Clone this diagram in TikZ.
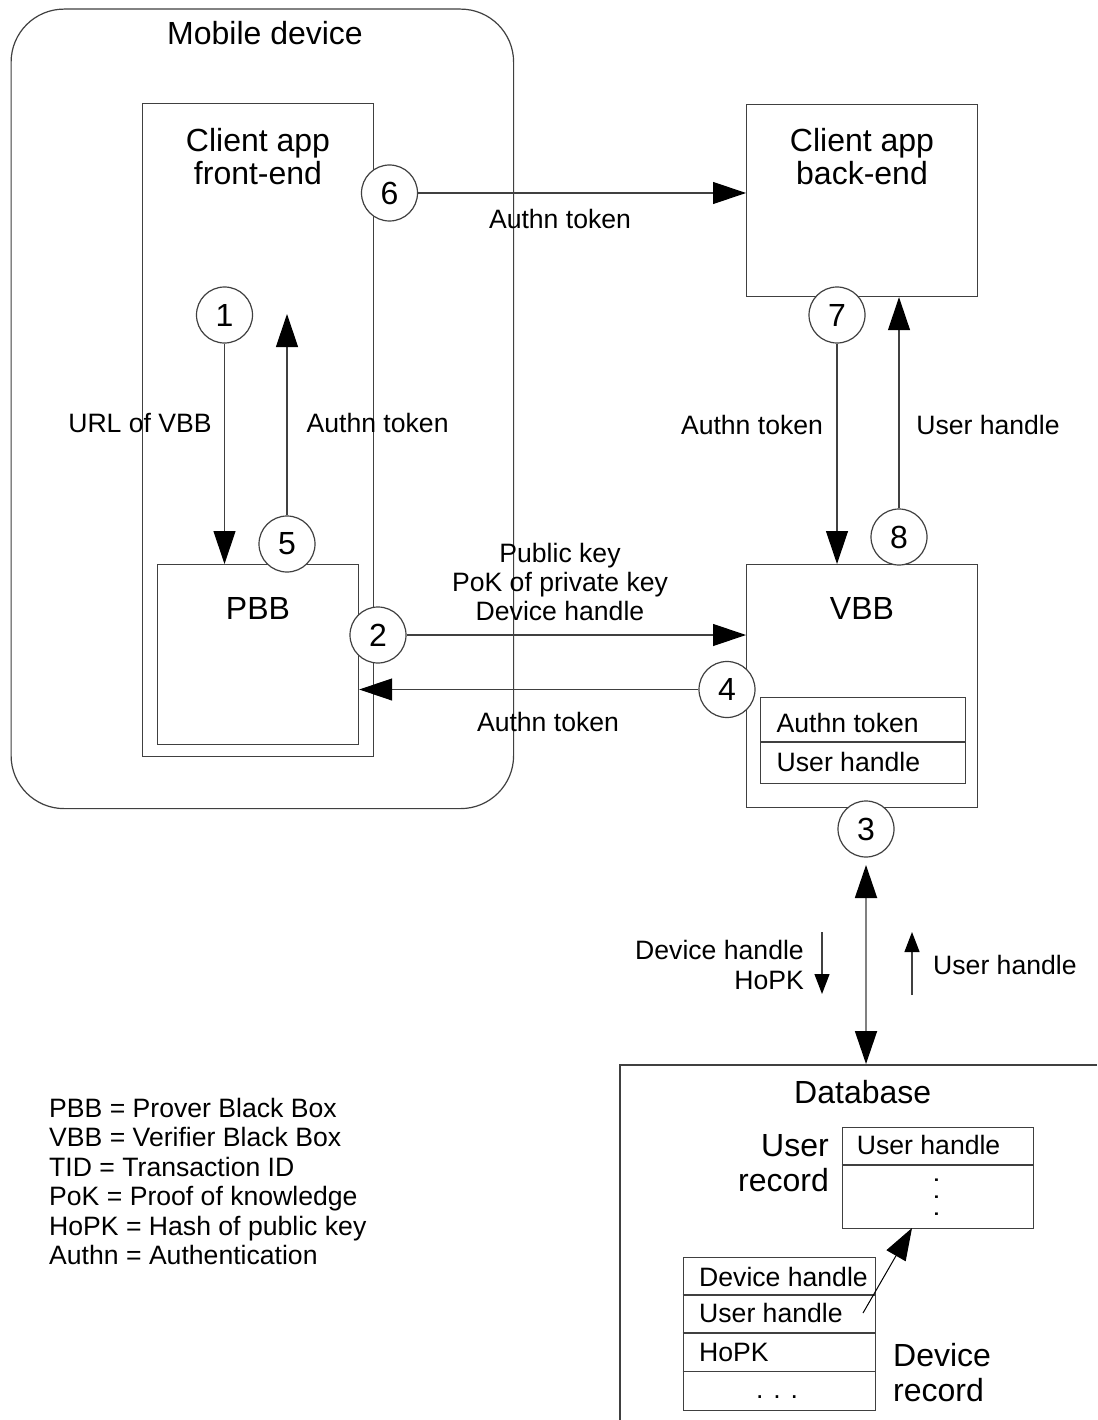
\documentclass[tikz,border=0pt]{standalone}
\usepackage{fontspec}
\setmainfont{Liberation Sans}
\usetikzlibrary{arrows.meta}
\newcommand\bigf{\fontsize{32}{35}\selectfont}
\newcommand\smallf{\fontsize{26.6}{29.4}\selectfont}
\tikzset{
 ln/.style={draw=black!75, line width=1.2pt},
 boxst/.style={ln, rectangle, inner sep=0pt, anchor=north west},
 num/.style={ln, circle, fill=white, minimum size=56pt, inner sep=0pt, font=\bigf},
 sm/.style={inner sep=0pt, font=\smallf},
 bg/.style={inner sep=0pt, font=\bigf},
 arr/.style={ln, -{Triangle[length=33pt,width=22pt,black]}},
 sarr/.style={ln, -{Triangle[length=20pt,width=15pt,black]}},
}
\begin{document}
\begin{tikzpicture}[x=1pt,y=-1pt]
\useasboundingbox (0,0) rectangle (1097,1420);
\fill[white] (0,0) rectangle (1097,1420);
% boxes
\node[boxst, rounded corners=53pt, minimum width=502.5pt, minimum height=799.5pt] (md) at (10.5,8.5) {};
\node[boxst, minimum width=231pt, minimum height=653pt] (fe) at (142,103) {};
\node[boxst, minimum width=201pt, minimum height=180pt] (pbb) at (157,564) {};
\node[boxst, minimum width=231pt, minimum height=192pt] (be) at (746,104) {};
\node[boxst, minimum width=231pt, minimum height=243pt] (vbb) at (746,564) {};
\node[boxst, minimum width=205pt, minimum height=86pt] (vt) at (760,697) {};
\draw[ln] (760,742) -- (965,742);
% database
\draw[ln] (1097,1065) -- (620,1065) -- (620,1420);
\node[boxst, minimum width=191.3pt, minimum height=101pt] (ur) at (841.7,1126.7) {};
\draw[ln] (841.7,1165) -- (1033,1165);
\node[boxst, minimum width=192.3pt, minimum height=153.3pt] (dr) at (682.7,1256.7) {};
\draw[ln] (682.7,1295) -- (875,1295);
\draw[ln] (682.7,1333) -- (875,1333);
\draw[ln] (682.7,1371.7) -- (875,1371.7);
% numbered circles
\node[num] (c1) at (224.5,315) {1};
\node[num] (c2) at (378,635) {2};
\node[num] (c3) at (866,829) {3};
\node[num] (c4) at (727,689.5) {4};
\node[num] (c5) at (287,544) {5};
\node[num] (c6) at (389.5,193) {6};
\node[num] (c7) at (837,315) {7};
\node[num] (c8) at (899,537) {8};
% connectors
\draw[arr] (c1.south) -- (c1.south |- pbb.north);
\coordinate (t5) at (287,314);
\draw[arr] (c5.north) -- (t5);
\draw[arr] (c6.east) -- (c6.east -| be.west);
\draw[arr] (c2.east) -- (c2.east -| vbb.west);
\draw[arr] (c4.west) -- (c4.west -| pbb.east);
\draw[arr] (c7.south) -- (c7.south |- vbb.north);
\draw[arr] (c8.north) -- (c8.north |- be.south);
\coordinate (d3) at (866,865);
\coordinate (dbt) at (866,1064);
\draw[draw=black!50, line width=1.8pt, {Triangle[length=33pt,width=22pt,black]}-{Triangle[length=33pt,width=22pt,black]}] (d3) -- (dbt);
\coordinate (sa1) at (822,932);
\coordinate (sa2) at (822,994);
\draw[sarr] (sa1) -- (sa2);
\coordinate (sb1) at (912,995);
\coordinate (sb2) at (912,932);
\draw[sarr] (sb1) -- (sb2);
\coordinate (uh) at (863,1313);
\coordinate (ut) at (912,1228);
\draw[draw=black, line width=1pt, -{Triangle[length=32pt,width=22pt,black]}] (uh) -- (ut);
% big labels
\node[bg, anchor=base] (mdl) at (265,44.5) {Mobile device};
\node[bg, anchor=base] (fe1) at (258,151.5) {Client app};
\node[bg, anchor=base] (fe2) at (258,184.5) {front-end};
\node[bg, anchor=base] (be1) at (862,151.5) {Client app};
\node[bg, anchor=base] (be2) at (862,184.5) {back-end};
\node[bg, anchor=base] (pbbl) at (258,619.5) {PBB};
\node[bg, anchor=base] (vbbl) at (862,619.5) {VBB};
% arrow labels
\node[sm, anchor=base] (l1) at (140,432.5) {URL of VBB};
\node[sm, anchor=base] (l5) at (377.6,432.5) {Authn token};
\node[sm, anchor=base] (l6) at (560,228.5) {Authn token};
\node[sm, anchor=base] (l7) at (752,434.5) {Authn token};
\node[sm, anchor=base] (l8) at (988,434.5) {User handle};
\node[sm, anchor=base] (l2a) at (560,562.5) {Public key};
\node[sm, anchor=base] (l2b) at (560,591.5) {PoK of private key};
\node[sm, anchor=base] (l2c) at (560,620.5) {Device handle};
\node[sm, anchor=base] (l4) at (548,731.5) {Authn token};
% VBB table
\node[sm, anchor=base west] (vt1) at (776.5,732.5) {Authn token};
\node[sm, anchor=base west] (vt2) at (776.5,771.5) {User handle};
% database labels
\node[sm, anchor=base east] (d1) at (804,959.5) {Device handle};
\node[sm, anchor=base east] (d2) at (804,989.5) {HoPK};
\node[sm, anchor=base west] (u1) at (933,974.5) {User handle};
\node[bg, anchor=base] (dbl) at (862.7,1103.5) {Database};
\node[bg, anchor=base east] (ur1) at (829,1156) {User};
\node[bg, anchor=base east] (ur2) at (829,1191.5) {record};
\node[sm, anchor=base west] (urt) at (856.7,1154) {User handle};
\node[sm, rotate=-90, text height=2.7pt, text depth=0pt] (urd) at (937,1197) {. . .};
\node[sm, anchor=base west] (dr1) at (699,1286) {Device handle};
\node[sm, anchor=base west] (dr2) at (699,1322.5) {User handle};
\node[sm, anchor=base west] (dr3) at (699,1361) {HoPK};
\node[sm, text height=2.7pt, text depth=0pt] (dr4) at (777,1397) {. . .};
\node[bg, anchor=base west] (drl1) at (893,1366.5) {Device};
\node[bg, anchor=base west] (drl2) at (893,1401.5) {record};
% legend
\node[sm, anchor=base west] (g1) at (49,1117.5) {PBB = Prover Black Box};
\node[sm, anchor=base west] (g2) at (49,1146.9) {VBB = Verifier Black Box};
\node[sm, anchor=base west] (g3) at (49,1176.3) {TID = Transaction ID};
\node[sm, anchor=base west] (g4) at (49,1205.7) {PoK = Proof of knowledge};
\node[sm, anchor=base west] (g5) at (49,1235.1) {HoPK = Hash of public key};
\node[sm, anchor=base west] (g6) at (49,1264.5) {Authn = Authentication};
\end{tikzpicture}
\end{document}
